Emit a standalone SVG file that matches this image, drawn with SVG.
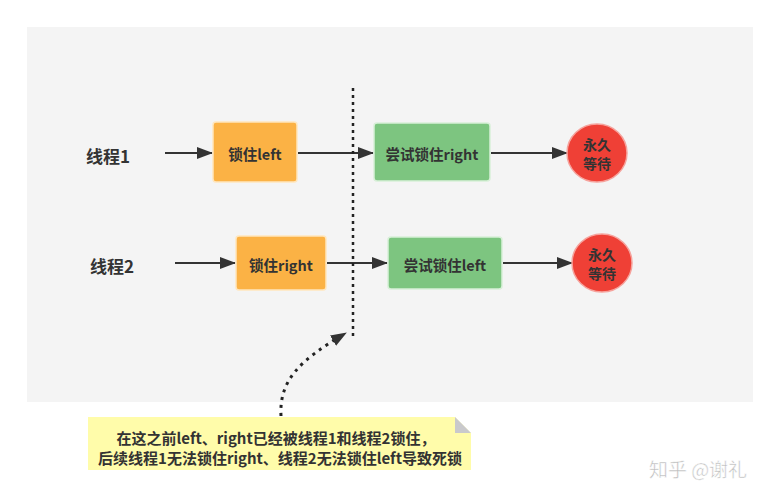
<svg xmlns="http://www.w3.org/2000/svg" width="780" height="500" viewBox="0 0 780 500">
<style>
text{font-family:"Noto Sans CJK SC","Noto Sans",sans-serif;font-weight:bold;fill:#333;text-anchor:middle;dominant-baseline:central}
.lbl{font-size:17px}
.n{font-size:14.5px}
.note{font-size:15px}
.c{font-size:14px}
.box-o{fill:#FBB245;stroke:#FFE6BD;stroke-width:1.5}
.box-g{fill:#7DC580;stroke:#D8EFD8;stroke-width:1.5}
.circ{fill:#EF4036;stroke:#F6A29C;stroke-width:1.5}
.edge{stroke:#333;stroke-width:2;fill:none}
</style>
<defs>
<marker id="ah" viewBox="0 0 16 12" refX="15" refY="6" markerWidth="16" markerHeight="12" orient="auto" markerUnits="userSpaceOnUse">
<path d="M0,0 L16,6 L0,12 z" fill="#333"/>
</marker>
</defs>
<rect width="780" height="500" fill="#fff"/>
<rect x="27" y="27" width="726" height="375" fill="#F4F4F4"/>

<g id="connectors">
<line class="edge" x1="165" y1="153" x2="212" y2="153" marker-end="url(#ah)"/>
<line class="edge" x1="298" y1="153" x2="373" y2="153" marker-end="url(#ah)"/>
<line class="edge" x1="491" y1="153" x2="567" y2="153" marker-end="url(#ah)"/>
<line class="edge" x1="175" y1="263" x2="235" y2="263" marker-end="url(#ah)"/>
<line class="edge" x1="327" y1="263" x2="387" y2="263" marker-end="url(#ah)"/>
<line class="edge" x1="503" y1="263" x2="572" y2="263" marker-end="url(#ah)"/>
<line x1="353" y1="88" x2="353" y2="336" stroke="#222" stroke-width="2.5" stroke-dasharray="3,4"/>
<path d="M281,416 C279,380 300,360 346,333" stroke="#222" stroke-width="3" fill="none" stroke-dasharray="3,5" marker-end="url(#ah)"/>
</g>

<g id="t1"><text class="lbl" x="108" y="155">线程1</text></g>
<g id="t2"><text class="lbl" x="112" y="265">线程2</text></g>

<g id="lockLeft">
<rect class="box-o" x="213" y="122" width="84" height="60" rx="3"/>
<text class="n" x="255" y="153">锁住left</text>
</g>
<g id="tryRight">
<rect class="box-g" x="374" y="123" width="116" height="58" rx="3"/>
<text class="n" x="432" y="153">尝试锁住right</text>
</g>
<g id="wait1">
<ellipse class="circ" cx="597" cy="153" rx="30" ry="29"/>
<text class="c" x="597" y="144">永久</text>
<text class="c" x="597" y="163">等待</text>
</g>

<g id="lockRight">
<rect class="box-o" x="236" y="236" width="90" height="54" rx="3"/>
<text class="n" x="281" y="264">锁住right</text>
</g>
<g id="tryLeft">
<rect class="box-g" x="388" y="237" width="114" height="52" rx="3"/>
<text class="n" x="445" y="264">尝试锁住left</text>
</g>
<g id="wait2">
<ellipse class="circ" cx="602" cy="263" rx="30" ry="29"/>
<text class="c" x="602" y="254">永久</text>
<text class="c" x="602" y="273">等待</text>
</g>

<g id="note">
<path d="M88,417 L455,417 L471,433 L471,470 L88,470 z" fill="#FFFCAA"/>
<path d="M455,417 L471,433 L455,433 z" fill="#C9C9CC"/>
<text class="note" x="276" y="437">在这之前left、right已经被线程1和线程2锁住，</text>
<text class="note" x="280" y="457">后续线程1无法锁住right、线程2无法锁住left导致死锁</text>
</g>

<g id="watermark">
<text x="698" y="468" style="font-size:19px;font-weight:normal;fill:#bbb;stroke:#fff;stroke-width:0.5">知乎 @谢礼</text>
</g>
</svg>
